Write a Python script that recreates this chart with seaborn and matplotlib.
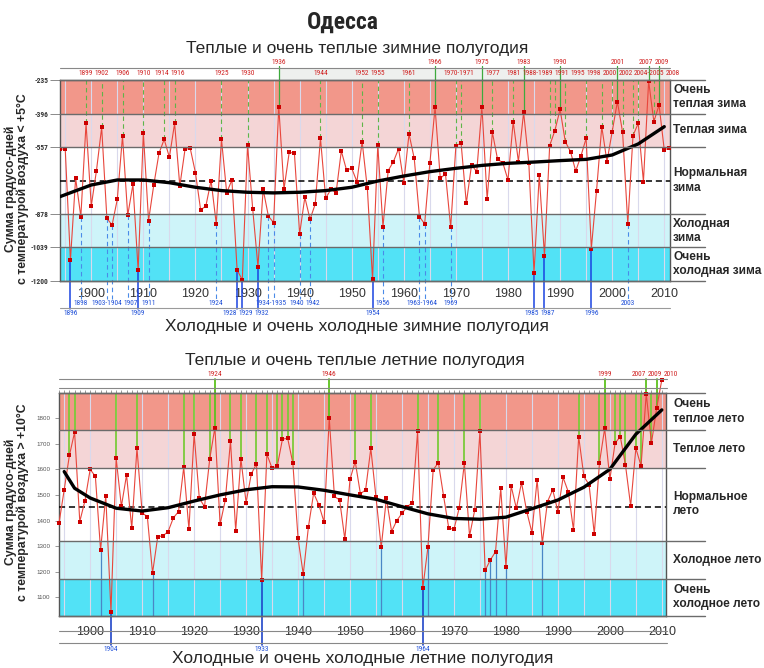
import numpy as np
import pandas as pd
import matplotlib
matplotlib.use('Agg')
import matplotlib.pyplot as plt
from matplotlib import font_manager
from matplotlib.patches import Rectangle
from matplotlib.lines import Line2D
import seaborn as sns

# ---- winter half-years: degree-day sums with air temperature < +5C ----
winter_years = list(range(1894, 2012))
winter_sum = [
    -568, -565, -1100, -707, -891, -443,                          # 1894-1899
    -840, -670, -462, -899, -931, -808, -504, -885, -736, -1147,   # 1900-1909
    -488, -910, -739, -587, -520, -606, -443, -744, -568, -563,    # 1910-1919
    -680, -859, -840, -718, -926, -520, -776, -715, -1147, -1195,  # 1920-1929
    -547, -856, -1131, -760, -888, -920, -363, -760, -582, -587,   # 1930-1939
    -974, -798, -904, -830, -515, -803, -760, -776, -576, -667,    # 1940-1949
    -659, -723, -531, -755, -1192, -547, -939, -670, -627, -565,   # 1950-1959
    -728, -494, -611, -891, -926, -635, -366, -707, -686, -942,    # 1960-1969
    -550, -539, -827, -643, -675, -363, -808, -486, -616, -632,    # 1970-1979
    -715, -435, -627, -390, -635, -1160, -691, -1078, -550, -478,  # 1980-1989
    -376, -531, -579, -672, -600, -515, -1045, -766, -459, -627,   # 1990-1999
    -483, -339, -486, -926, -502, -443, -723, -240, -435, -355,    # 2000-2009
    -571, -560,                                                    # 2010-2011
]
winter_trend_years = [1894, 1900, 1905, 1910, 1915, 1920, 1925, 1930, 1935, 1940, 1945, 1950,
                      1955, 1960, 1965, 1970, 1975, 1980, 1985, 1990, 1995, 2000, 2005, 2010]
winter_trend = [-795, -739, -715, -715, -728, -750, -766, -774, -777, -774, -766, -750,
                -720, -696, -675, -659, -645, -635, -629, -622, -616, -595, -542, -459]
winter_bounds = [-1200, -1039, -878, -557, -396, -235]
winter_norm = -718
winter_bands = ['Очень\nхолодная зима', 'Холодная\nзима', 'Нормальная\nзима', 'Теплая зима', 'Очень\nтеплая зима']
winter_very_warm_labels = ['1936', '1966', '1975', '1983', '1990', '2001', '2007', '2009']
winter_warm_labels = ['1899', '1902', '1906', '1910', '1914', '1916', '1925', '1930', '1944', '1952',
                      '1955', '1961', '1970-1971', '1977', '1981', '1988-1989', '1991', '1995', '1998',
                      '2000', '2002', '2004-2005', '2008']
winter_cold_labels = ['1898', '1903-1904', '1907', '1911', '1924', '1934-1935', '1940', '1942',
                      '1956', '1963-1964', '1969', '2003']
winter_very_cold_labels = ['1896', '1909', '1928', '1929', '1932', '1954', '1985', '1987', '1996']

# ---- summer half-years: degree-day sums with air temperature > +10C ----
summer_years = list(range(1894, 2011))
summer_sum = [
    1389, 1520, 1654, 1745, 1396, 1478,                            # 1894-1899
    1600, 1572, 1285, 1496, 1044, 1643, 1455, 1578, 1370, 1682,    # 1900-1909
    1430, 1415, 1195, 1337, 1340, 1357, 1410, 1435, 1608, 1366,    # 1910-1919
    1738, 1487, 1454, 1640, 1763, 1385, 1480, 1711, 1360, 1641,    # 1920-1929
    1470, 1582, 1621, 1168, 1659, 1604, 1612, 1718, 1721, 1624,    # 1930-1939
    1330, 1190, 1376, 1507, 1461, 1394, 1800, 1494, 1480, 1327,    # 1940-1949
    1561, 1630, 1504, 1520, 1682, 1490, 1295, 1487, 1357, 1400,    # 1950-1959
    1428, 1454, 1470, 1748, 1135, 1298, 1598, 1626, 1496, 1370,    # 1960-1969
    1366, 1448, 1624, 1340, 1441, 1748, 1205, 1246, 1278, 1526,    # 1970-1979
    1220, 1535, 1448, 1548, 1435, 1353, 1559, 1312, 1474, 1520,    # 1980-1989
    1435, 1568, 1512, 1363, 1728, 1572, 1540, 1347, 1626, 1760,    # 1990-1999
    1561, 1702, 1728, 1617, 1457, 1682, 1613, 1895, 1702, 1839,    # 2000-2009
    1950,                                                          # 2010
]
summer_trend_years = [1895, 1897, 1900, 1905, 1910, 1915, 1920, 1925, 1930, 1935, 1940, 1945, 1950,
                      1955, 1960, 1965, 1970, 1975, 1980, 1985, 1990, 1995, 2000, 2005, 2010]
summer_trend = [1591, 1526, 1488, 1448, 1437, 1450, 1476, 1500, 1520, 1532, 1531, 1518, 1500,
                1483, 1454, 1426, 1408, 1405, 1413, 1446, 1480, 1530, 1600, 1737, 1832]
summer_bounds = [1027, 1173, 1319, 1607, 1754, 1898]
summer_norm = 1452
summer_bands = ['Очень\nхолодное лето', 'Холодное лето', 'Нормальное\nлето', 'Теплое лето', 'Очень\nтеплое лето']
summer_very_warm_labels = ['1924', '1946', '1999', '2007', '2009', '2010']
summer_very_cold_labels = ['1904', '1933', '1964']

band_colors = ['#52E2F6', '#CEF4F9', '#FFFFFF', '#F4D5D6', '#F2978A']

sns.set_theme(style='white')
plt.rcParams['font.family'] = ['Liberation Sans', 'DejaVu Sans']

# pick a narrow face for the small year labels if one is installed
ttf = font_manager.fontManager.ttflist
names = {f.name for f in ttf}
NARROW = {'family': ['Liberation Sans', 'DejaVu Sans'], 'fontstretch': 'normal'}
NARROW_OK = False
for cand in ['Liberation Sans Narrow', 'Arial Narrow', 'Roboto Condensed', 'Open Sans Condensed',
             'Noto Sans Condensed', 'DejaVu Sans Condensed']:
    if cand in names:
        NARROW = {'family': [cand, 'DejaVu Sans'], 'fontstretch': 'normal'}
        NARROW_OK = True
        break
if not NARROW_OK:
    for fam in ['Noto Sans', 'DejaVu Sans', 'Open Sans', 'Roboto']:
        if any(f.name == fam and str(f.stretch) in ('condensed', 'semi-condensed', 'extra-condensed')
               for f in ttf):
            NARROW = {'family': [fam], 'fontstretch': 'condensed'}
            NARROW_OK = True
            break
small = 5.3 if NARROW_OK else 4.8

W, H = 764, 668
fig = plt.figure(figsize=(W / 100, H / 100), dpi=100)
fig.patch.set_facecolor('white')
renderer = fig.canvas.get_renderer()


def fx(px):
    return px / W


def fy(py):
    return 1 - py / H


def label_x(s):
    return np.mean([int(p) for p in s.split('-')])


def frac_to_data(ax, f):
    lo, hi = ax.get_ylim()
    return lo + f * (hi - lo)


def hline_px(y, x0, x1, color, lw=0.9):
    fig.add_artist(Line2D([fx(x0), fx(x1)], [fy(y), fy(y)], color=color, lw=lw, transform=fig.transFigure))


def label_row(ax, labels, yfrac, color, gap_px=1.5):
    # place year labels in one row and push neighbours apart so they do not collide
    texts = [ax.text(label_x(s), yfrac, s, transform=ax.get_xaxis_transform(), ha='center',
                     va='center', fontsize=small, color=color, **NARROW) for s in labels]
    x0, x1 = ax.get_xlim()
    ppy = ax.bbox.width / (x1 - x0)
    cs = [t.get_position()[0] for t in texts]
    ws = [(t.get_window_extent(renderer).width + gap_px) / ppy for t in texts]
    for _ in range(300):
        moved = False
        for i in range(len(cs) - 1):
            ov = (ws[i] + ws[i + 1]) / 2 - (cs[i + 1] - cs[i])
            if ov > 1e-4:
                cs[i] -= ov / 2
                cs[i + 1] += ov / 2
                moved = True
        if not moved:
            break
    for t, c in zip(texts, cs):
        t.set_x(c)


def setup_panel(ax, bounds, norm, xlim, band_names, ext):
    ax.set_xlim(*xlim)
    ax.set_ylim(bounds[0], bounds[-1])
    for lo, hi, c in zip(bounds[:-1], bounds[1:], band_colors):
        ax.axhspan(lo, hi, color=c, lw=0, zorder=0)
    ax.vlines(range(1895, 2011, 5), bounds[0], bounds[-1], color='#D9D9EC', lw=0.8, zorder=1)
    for b in bounds:
        ax.plot([0, ext], [b, b], transform=ax.get_yaxis_transform(), color='#6B6B6B',
                lw=1.0, clip_on=False, zorder=6)
    ax.axhline(norm, color='black', ls=(0, (4, 2.5)), lw=1.1, zorder=3)
    for lo, hi, name in zip(bounds[:-1], bounds[1:], band_names):
        ax.text(ext - 0.052, (lo + hi) / 2, name, transform=ax.get_yaxis_transform(),
                ha='left', va='center', fontsize=8.6, fontweight='bold', linespacing=1.25)
    for s in ax.spines.values():
        s.set_color('#555555')
        s.set_linewidth(1.0)
    ax.set_xticks(range(1900, 2011, 10))
    ax.tick_params(axis='x', labelsize=9, labelcolor='#333333', length=0, pad=5)


# ================= top panel: winter =================
ax1 = fig.add_axes([fx(60), fy(281), fx(610), 201 / H])
setup_panel(ax1, winter_bounds, winter_norm, (1894, 2011.1), winter_bands, 1.057)
ax1.set_yticks(winter_bounds)
ax1.set_yticklabels([str(b) for b in winter_bounds], fontweight='bold', **NARROW)
ax1.tick_params(axis='y', labelsize=5.3, labelcolor='#333333', length=7, width=0.6, pad=1.5,
                color='#777777', left=True)

winter = pd.DataFrame({'year': winter_years, 'sum': winter_sum})
top_ext = frac_to_data(ax1, 1.07)
low1 = frac_to_data(ax1, -0.09)
low2 = frac_to_data(ax1, -0.139)
for yr, v in zip(winter_years, winter_sum):
    if v > winter_bounds[4]:
        ax1.plot([yr, yr], [v, top_ext], color='#3DAA3D', lw=0.9, clip_on=False, zorder=2)
    elif v > winter_bounds[3]:
        ax1.plot([yr, yr], [v, winter_bounds[5]], color='#5FB548', lw=0.8, ls=(0, (4, 3)), zorder=2)
    elif v < winter_bounds[1]:
        ax1.plot([yr, yr], [v, low2], color='#1A44E0', lw=1.1, clip_on=False, zorder=2)
    elif v < winter_bounds[2]:
        ax1.plot([yr, yr], [v, low1], color='#4A8BE8', lw=0.8, ls=(0, (4, 3)), clip_on=False, zorder=2)

sns.lineplot(data=winter, x='year', y='sum', ax=ax1, color='#E8463C', lw=0.8, marker='s',
             markersize=2.3, markeredgewidth=0, markerfacecolor='#CC0000', zorder=4)
sns.lineplot(x=winter_trend_years, y=winter_trend, ax=ax1, color='black', lw=2.4, zorder=5)
ax1.set_xlabel('')
ax1.set_ylabel('')

xt = ax1.get_xaxis_transform()
ax1.add_patch(Rectangle((1936, 1.0), 2011.1 - 1936, 0.06, transform=xt, color='#EEF0EE',
                        lw=0, clip_on=False, zorder=0))
label_row(ax1, winter_very_warm_labels, 1.085, '#D02020')
label_row(ax1, winter_warm_labels, 1.033, '#D02020')
label_row(ax1, winter_cold_labels, -0.11, '#1E4FD8')
label_row(ax1, winter_very_cold_labels, -0.16, '#1E4FD8')
hline_px(68, 60, 670, '#888888', 0.8)
hline_px(308, 60, 670, '#9A9A9A', 0.8)

# ================= bottom panel: summer =================
ax2 = fig.add_axes([fx(59), fy(616), fx(607), 223 / H])
setup_panel(ax2, summer_bounds, summer_norm, (1894, 2010.8), summer_bands, 1.064)
ax2.set_yticks(range(1100, 1801, 100))
ax2.tick_params(axis='y', labelsize=4.5, labelcolor='#555555', length=3, width=0.6,
                color='#888888', left=True)
ax2.set_xticks(range(1894, 2011), minor=True)
ax2.tick_params(axis='x', which='both', top=True, bottom=False, length=2.5, width=0.6,
                color='#888888', direction='out')

summer = pd.DataFrame({'year': summer_years, 'sum': summer_sum})
top_ext2 = frac_to_data(ax2, 1.063)
low3 = frac_to_data(ax2, -0.13)
for yr, v in zip(summer_years, summer_sum):
    if v > summer_bounds[4]:
        ax2.plot([yr, yr], [v, top_ext2], color='#5DC21E', lw=1.3, clip_on=False, zorder=2)
    elif v > summer_bounds[3]:
        ax2.plot([yr, yr], [v, summer_bounds[5]], color='#7CCB3A', lw=1.3, zorder=2)
    elif v < summer_bounds[1]:
        ax2.plot([yr, yr], [v, low3], color='#2046C8', lw=1.2, clip_on=False, zorder=2)
    elif v < summer_bounds[2]:
        ax2.plot([yr, yr], [v, summer_bounds[0]], color='#4A86C6', lw=0.9, zorder=2)

sns.lineplot(data=summer, x='year', y='sum', ax=ax2, color='#E8463C', lw=0.8, marker='s',
             markersize=2.3, markeredgewidth=0, markerfacecolor='#CC0000', zorder=4)
ax2.lines[-1].set_clip_on(False)
sns.lineplot(x=summer_trend_years, y=summer_trend, ax=ax2, color='black', lw=2.4, zorder=5)
ax2.set_xlabel('')
ax2.set_ylabel('')

label_row(ax2, summer_very_warm_labels, 1.085, '#D02020')
label_row(ax2, summer_very_cold_labels, -0.148, '#1E4FD8')
hline_px(379, 59, 667, '#888888', 0.8)
hline_px(388, 59, 667, '#888888', 0.8)
hline_px(631, 59, 667, '#888888', 0.8)
hline_px(643, 59, 667, '#888888', 0.8)

# ================= titles and axis captions =================
fig.text(fx(343), fy(22), 'Одесса', ha='center', va='center', fontsize=17 if NARROW_OK else 15,
         fontweight='bold', **NARROW)
fig.text(fx(357), fy(49), 'Теплые и очень теплые зимние полугодия', ha='center', va='center', fontsize=12.5)
fig.text(fx(357), fy(327), 'Холодные и очень холодные зимние полугодия', ha='center', va='center', fontsize=12.5)
fig.text(fx(355), fy(360), 'Теплые и очень теплые летние полугодия', ha='center', va='center', fontsize=12.5)
fig.text(fx(363), fy(659), 'Холодные и очень холодные летние полугодия', ha='center', va='center', fontsize=12.5)
fig.text(fx(17), fy(189), 'Сумма градусо-дней\nс температурой воздуха < +5°C', rotation=90,
         ha='center', va='center', fontsize=8.8, fontweight='bold', linespacing=0.98)
fig.text(fx(17), fy(502), 'Сумма градусо-дней\nс температурой воздуха > +10°C', rotation=90,
         ha='center', va='center', fontsize=8.8, fontweight='bold', linespacing=0.98)

fig.savefig('out.png', dpi=100, facecolor='white')
